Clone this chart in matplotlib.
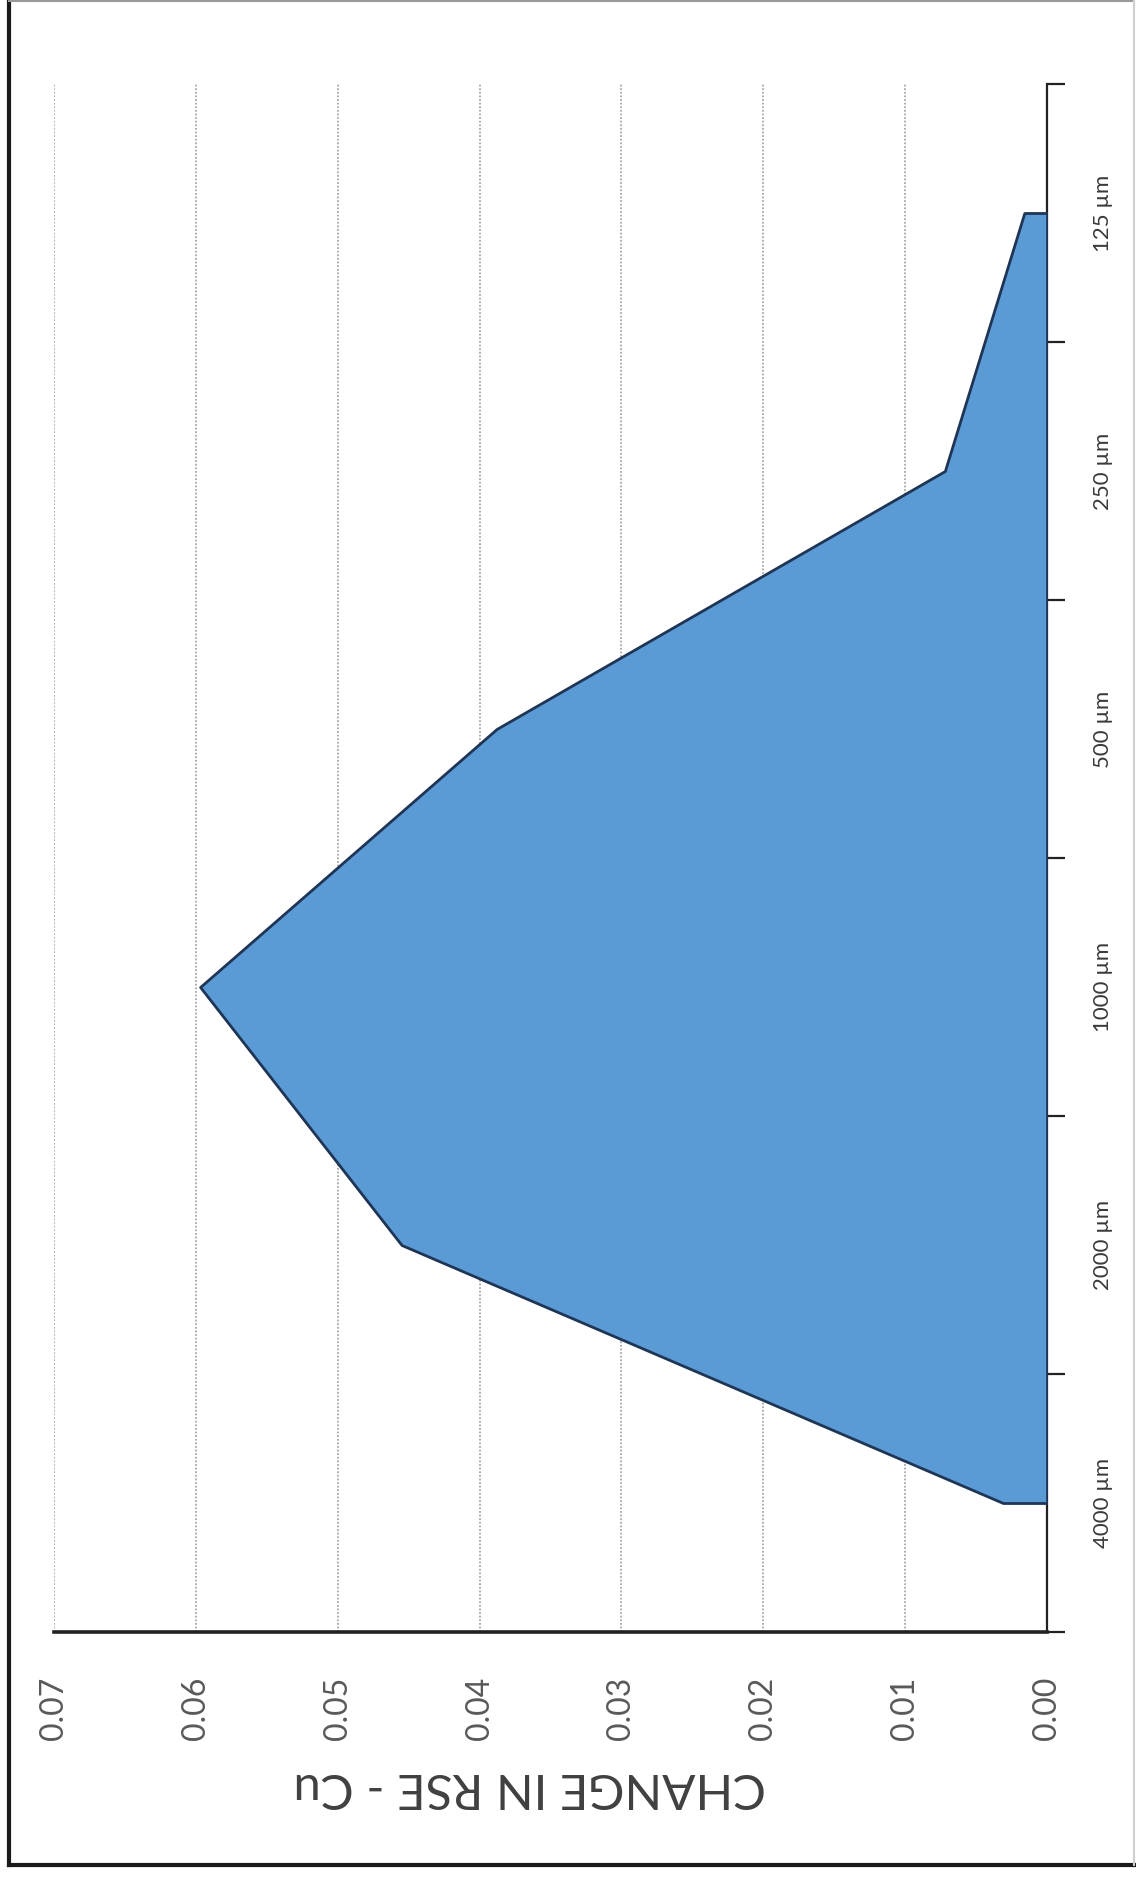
import matplotlib
matplotlib.use('Agg')
import matplotlib.pyplot as plt
from matplotlib.lines import Line2D
import numpy as np

plt.rcParams['font.family'] = ['Lato', 'DejaVu Sans']

# original chart is rotated 90 deg ccw: categories run bottom -> top
categories = ['4000 µm', '2000 µm', '1000 µm', '500 µm', '250 µm', '125 µm']
values = [0.0031, 0.0455, 0.0597, 0.0388, 0.0072, 0.0016]
value_ticks = [0.00, 0.01, 0.02, 0.03, 0.04, 0.05, 0.06, 0.07]
value_label = 'CHANGE IN RSE - Cu'

W, H = 1136, 1877
fig = plt.figure(figsize=(W / 100, H / 100), dpi=100)

ax = fig.add_axes([54 / W, 1 - 1632 / H, (1047 - 54) / W, (1632 - 84) / H])

pos = np.arange(len(categories)) + 0.5
ax.fill_betweenx(pos, values, 0, facecolor='#5b9bd5', edgecolor='#1f3556',
                 linewidth=2, zorder=3)

ax.set_xlim(0.07, 0)
ax.set_ylim(0, len(categories))

# value axis (bottom in the picture)
ax.set_xticks(value_ticks)
ax.set_xticklabels(['%.2f' % v for v in value_ticks], rotation=90,
                   fontsize=23, color='#595959')
ax.tick_params(axis='x', length=0, pad=32)
ax.grid(axis='x', color='#a8a8a8', linestyle=(0, (1, 1)), linewidth=1.3, zorder=1)

# category axis (right in the picture)
ax.yaxis.tick_right()
ax.set_yticks(np.arange(len(categories) + 1))
ax.set_yticklabels([])
ax.set_yticks(pos, minor=True)
ax.set_yticklabels(categories, minor=True, rotation=90, fontsize=16,
                   color='#3a3a3a', va='center')
ax.tick_params(axis='y', which='major', direction='out', length=13, width=1.6,
               color='#222222')
ax.tick_params(axis='y', which='minor', length=0, pad=33)

for s in ['top', 'left']:
    ax.spines[s].set_visible(False)
ax.spines['bottom'].set_color('#222222')
ax.spines['bottom'].set_linewidth(2.6)
ax.spines['right'].set_color('#222222')
ax.spines['right'].set_linewidth(1.6)
ax.set_axisbelow(True)

fig.text(530 / W, 1 - 1787 / H, value_label, rotation=180, fontsize=35.5,
         color='#404040', ha='center', va='center')

# outer frame: dark on left/bottom, faint on top/right
x0, x1 = 9 / W, 1 - 2 / W
y0, y1 = 1 - 1865 / H, 1 - 1 / H
fig.lines.append(Line2D([x0, x0], [y0, y1], transform=fig.transFigure,
                        color='#1a1a1a', linewidth=3))
fig.lines.append(Line2D([x0, x1], [y0, y0], transform=fig.transFigure,
                        color='#1a1a1a', linewidth=3))
fig.lines.append(Line2D([x0, x1], [y1, y1], transform=fig.transFigure,
                        color='#9a9a9a', linewidth=1.5))
fig.lines.append(Line2D([x1, x1], [y0, y1], transform=fig.transFigure,
                        color='#d0d0d0', linewidth=1.5))

fig.savefig('out.png', dpi=100, facecolor='white')
